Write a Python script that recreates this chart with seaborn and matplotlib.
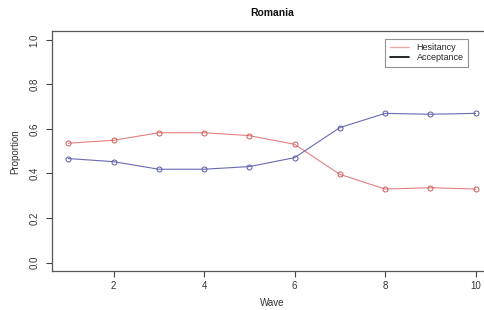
import matplotlib
matplotlib.use("Agg")
import matplotlib.pyplot as plt
from matplotlib.lines import Line2D
import seaborn as sns
import pandas as pd

waves = [1, 2, 3, 4, 5, 6, 7, 8, 9, 10]
hesitancy = [0.536, 0.549, 0.583, 0.583, 0.570, 0.531, 0.396, 0.330, 0.336, 0.330]
acceptance = [0.467, 0.453, 0.419, 0.419, 0.431, 0.471, 0.606, 0.670, 0.666, 0.670]
x_ticks = [2, 4, 6, 8, 10]
y_ticks = [0.0, 0.2, 0.4, 0.6, 0.8, 1.0]

sns.set_style("white")
plt.rcParams['font.family'] = ['Liberation Sans', 'DejaVu Sans']

fig = plt.figure(figsize=(4.84, 3.10), dpi=100)
ax = fig.add_axes([0.1074, 0.1245, 0.909, 0.7755])

df = pd.DataFrame({"Wave": waves, "Hesitancy": hesitancy, "Acceptance": acceptance})
sns.lineplot(data=df, x="Wave", y="Hesitancy", ax=ax, color="#e48080", lw=0.8,
             marker="o", markersize=3.6, markerfacecolor="none",
             markeredgecolor="#d05a5a", markeredgewidth=0.7)
sns.lineplot(data=df, x="Wave", y="Acceptance", ax=ax, color="#6a6ab4", lw=0.8,
             marker="o", markersize=3.6, markerfacecolor="none",
             markeredgecolor="#5a5aaa", markeredgewidth=0.7)

ax.set_xlim(0.64, 10.36)
ax.set_ylim(-0.04, 1.04)
ax.set_xticks(x_ticks)
ax.set_xticklabels([str(t) for t in x_ticks], fontsize=7, color="#333333")
ax.set_yticks(y_ticks)
ax.set_yticklabels([f"{t:.1f}" for t in y_ticks], fontsize=7, rotation=90,
                   va="center", color="#333333")
ax.tick_params(axis="x", length=4, width=0.8, color="#444444", direction="out",
               bottom=True, pad=3)
ax.tick_params(axis="y", length=4, width=0.8, color="#444444", direction="out",
               left=True, pad=5)
for s in ax.spines.values():
    s.set_color("#555555")
    s.set_linewidth(0.9)

ax.set_xlabel("Wave", fontsize=7, color="#333333", labelpad=5)
ax.set_ylabel("Proportion", fontsize=7, color="#333333", labelpad=7)
ax.set_title("Romania", fontsize=7.5, fontweight="bold", pad=11, color="#111111")

handles = [Line2D([0], [0], color="#f0a8a8", lw=1.0),
           Line2D([0], [0], color="black", lw=1.2)]
leg = ax.legend(handles, ["Hesitancy", "Acceptance"], loc="upper left",
                bbox_to_anchor=(0.757, 0.967), borderaxespad=0, fontsize=6.5,
                frameon=True, fancybox=False, handlelength=2.2, borderpad=0.5,
                labelspacing=0.1, handletextpad=0.8)
leg.get_frame().set_edgecolor("#777777")
leg.get_frame().set_linewidth(0.8)

fig.savefig("out.png", dpi=100)
